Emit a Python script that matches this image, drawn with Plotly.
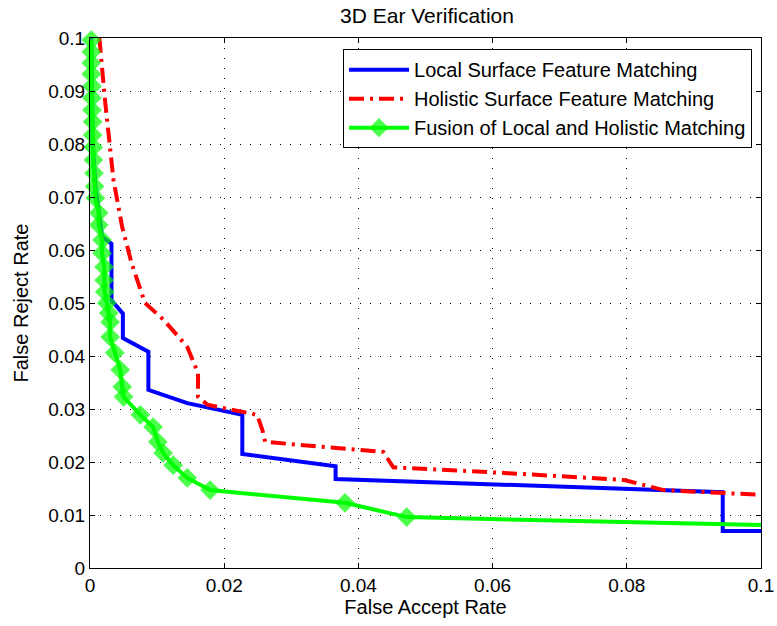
import plotly.graph_objects as go

# ---- data ----
local_x = [0.0002, 0.0004, 0.0008, 0.0013, 0.0018, 0.0032, 0.0032, 0.0049, 0.0049, 0.0087, 0.0087,
           0.0145, 0.0227, 0.0227, 0.0366, 0.0366, 0.0943, 0.0943, 0.1000]
local_y = [0.1000, 0.0800, 0.0720, 0.0670, 0.0625, 0.0612, 0.0505, 0.0480, 0.0434, 0.0408, 0.0336,
           0.0311, 0.0289, 0.0215, 0.0192, 0.0168, 0.0143, 0.0070, 0.0070]

holistic_x = [0.0014, 0.0022, 0.0035, 0.0048, 0.0062, 0.0082, 0.0110, 0.0145, 0.0161, 0.0161,
              0.0175, 0.0234, 0.0249, 0.0257, 0.0261, 0.0437, 0.0452, 0.0622, 0.0796, 0.0855, 0.1000]
holistic_y = [0.1000, 0.0887, 0.0732, 0.0643, 0.0575, 0.0500, 0.0468, 0.0417, 0.0368, 0.0323,
              0.0308, 0.0292, 0.0289, 0.0260, 0.0238, 0.0219, 0.0190, 0.0179, 0.0166, 0.0147, 0.0138]

fusion_x = [0.0002, 0.0002, 0.0002, 0.0002, 0.0003, 0.0003, 0.0003, 0.0004, 0.0004, 0.0005,
            0.0005, 0.0006, 0.0007, 0.0008, 0.0013, 0.0013, 0.0018, 0.0018, 0.0021, 0.0021,
            0.0022, 0.0025, 0.0028, 0.0030, 0.0030, 0.0037, 0.0045, 0.0048, 0.0050, 0.0075,
            0.0094, 0.0101, 0.0109, 0.0124, 0.0145, 0.0179, 0.0380, 0.0472, 0.1000]
fusion_y = [0.0996, 0.0974, 0.0953, 0.0932, 0.0909, 0.0887, 0.0864, 0.0842, 0.0817, 0.0794,
            0.0770, 0.0745, 0.0720, 0.0698, 0.0670, 0.0647, 0.0619, 0.0594, 0.0568, 0.0543,
            0.0521, 0.0500, 0.0481, 0.0464, 0.0436, 0.0406, 0.0374, 0.0342, 0.0323, 0.0289,
            0.0266, 0.0238, 0.0217, 0.0194, 0.0170, 0.0147, 0.0123, 0.0096, 0.0081]

x_ticks = [0, 0.02, 0.04, 0.06, 0.08, 0.1]
x_tick_labels = ["0", "0.02", "0.04", "0.06", "0.08", "0.1"]
y_ticks = [0, 0.01, 0.02, 0.03, 0.04, 0.05, 0.06, 0.07, 0.08, 0.09, 0.1]
y_tick_labels = ["0", "0.01", "0.02", "0.03", "0.04", "0.05", "0.06", "0.07", "0.08", "0.09", "0.1"]

names = ["Local Surface Feature Matching", "Holistic Surface Feature Matching",
         "Fusion of Local and Holistic Matching"]

FONT = "Liberation Sans, Arial, sans-serif"

fig = go.Figure()
fig.add_trace(go.Scatter(x=local_x, y=local_y, mode="lines", name=names[0],
                         line=dict(color="#0000FF", width=4)))
fig.add_trace(go.Scatter(x=holistic_x, y=holistic_y, mode="lines", name=names[1],
                         line=dict(color="#FF0000", width=4, dash="15px,6px,3px,6px")))
sizes = [13] * (len(fusion_x) - 1) + [0]
fig.add_trace(go.Scatter(x=fusion_x, y=fusion_y, mode="lines+markers", name=names[2],
                         line=dict(color="#00FF00", width=4),
                         marker=dict(symbol="diamond", size=sizes, color="#00FF00",
                                     line=dict(color="#00FF00", width=2)),
                         cliponaxis=False))

axis_common = dict(
    showline=True, linecolor="black", linewidth=1, mirror="allticks",
    ticks="inside", ticklen=5, tickcolor="black", automargin=False,
    showgrid=True, gridcolor="black", gridwidth=1, griddash="1px,9px",
    zeroline=False, tickfont=dict(family=FONT, size=19, color="black"),
)

fig.update_xaxes(range=[0, 0.1], tickvals=x_ticks, ticktext=x_tick_labels,
                 title=dict(text="False Accept Rate", font=dict(family=FONT, size=20, color="black"),
                            standoff=2),
                 **axis_common)
fig.update_yaxes(range=[0, 0.1], tickvals=y_ticks, ticktext=y_tick_labels,
                 title=dict(text="False Reject Rate", font=dict(family=FONT, size=20, color="black"),
                            standoff=14),
                 **axis_common)

fig.update_layout(
    width=777, height=626,
    margin=dict(l=90, r=16, t=38, b=58, autoexpand=False),
    paper_bgcolor="white", plot_bgcolor="white",
    title=dict(text="3D Ear Verification", x=427 / 777, xanchor="center",
               y=1 - 16 / 626, yanchor="middle",
               font=dict(family=FONT, size=21, color="black")),
    legend=dict(x=0.9866, xanchor="right", y=0.979, yanchor="top",
                bgcolor="white", bordercolor="black", borderwidth=1,
                font=dict(family=FONT, size=20, color="black"),
                itemwidth=60, tracegroupgap=0),
    showlegend=True,
)

fig.write_html("out.html")
